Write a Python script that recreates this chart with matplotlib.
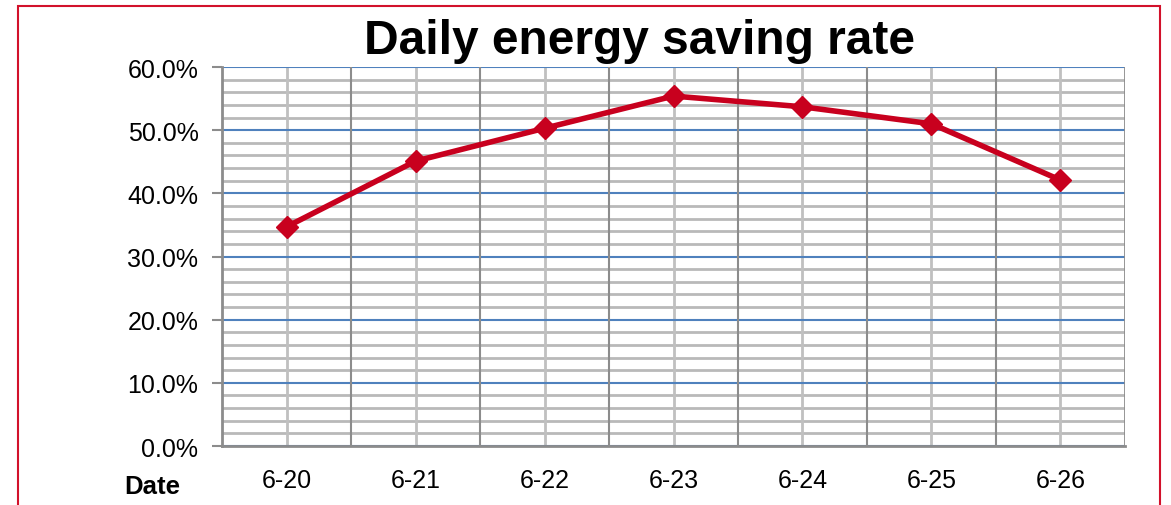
import numpy as np
import matplotlib.pyplot as plt
from matplotlib.patches import Rectangle
from matplotlib.ticker import PercentFormatter

# daily energy saving rate
dates = ["6-20", "6-21", "6-22", "6-23", "6-24", "6-25", "6-26"]
rate = [34.7, 45.1, 50.3, 55.4, 53.7, 51.0, 42.1]
yticks = [0, 10, 20, 30, 40, 50, 60]

plt.rcParams['font.family'] = ['Liberation Sans', 'DejaVu Sans']

fig = plt.figure(figsize=(11.71, 5.06), dpi=100)
ax = fig.add_axes([0.1896, 0.1166, 0.7711, 0.749])

x = np.arange(len(dates))
ax.set_xlim(-0.5, len(dates) - 0.5)
ax.set_ylim(0, 60)

# grid: minor every 2 %, major every 10 %
for v in np.arange(2, 60, 2):
    if v % 10:
        ax.axhline(v, color='#B9B9B9', lw=2, zorder=1)
for v in yticks:
    ax.axhline(v, color='#4F81BD', lw=1.5, zorder=2)
for c in x:
    ax.axvline(c, color='#C0C0C0', lw=2, zorder=1)
for b in np.arange(0.5, len(dates) - 0.5, 1):
    ax.axvline(b, color='#8C8C8C', lw=1.5, zorder=2)

ax.plot(x, rate, color='#C8001E', lw=4, marker='D', markersize=11,
        zorder=5, clip_on=False)

for s in ['top', 'right']:
    ax.spines[s].set_visible(False)
ax.spines['left'].set_color('#8C8C8C')
ax.spines['left'].set_linewidth(2)
ax.spines['bottom'].set_color('#8C8C8C')
ax.spines['bottom'].set_linewidth(2)
ax.axvline(len(dates) - 0.5, color='#8C8C8C', lw=2, zorder=2)

ax.set_yticks(yticks)
ax.yaxis.set_major_formatter(PercentFormatter(decimals=1))
ax.tick_params(axis='y', length=7, width=1.5, color='#8C8C8C',
               labelsize=18, pad=10)
ax.set_xticks(x)
ax.set_xticklabels(dates)
ax.tick_params(axis='x', length=0, labelsize=18, pad=16)

fig.text(0.5465, 1 - 42 / 506, "Daily energy saving rate", fontsize=34.5,
         fontweight='bold', ha='center', va='center')
fig.text(152 / 1171, 1 - 487 / 506, "Date", fontsize=18.5, fontweight='bold',
         ha='center', va='center')

fig.patches.append(Rectangle((18 / 1171, -0.05), 1142 / 1171, 1.05 - 7 / 506,
                             transform=fig.transFigure, fill=False,
                             edgecolor='#D2112B', lw=1.5))

fig.savefig("out.png", dpi=100)
